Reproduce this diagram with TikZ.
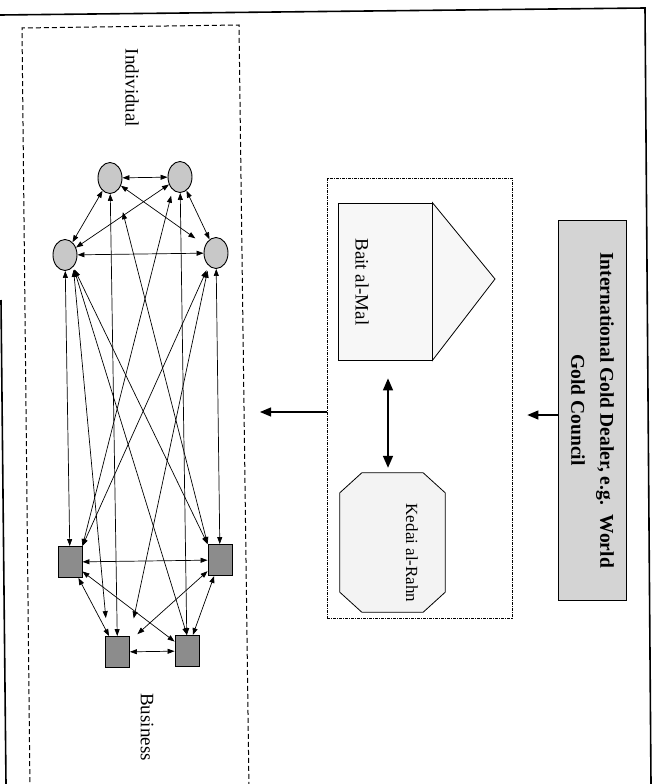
\documentclass[tikz,border=0pt]{standalone}
\usepackage{fontspec}
\setmainfont{Liberation Serif}
\usetikzlibrary{arrows.meta,shapes.geometric,calc}
\definecolor{circfill}{HTML}{C8C8C8}
\definecolor{sqfill}{HTML}{8C8C8C}
\definecolor{goldfill}{HTML}{D4D4D4}
\definecolor{octfill}{HTML}{F3F3F3}
\definecolor{housefill}{HTML}{F7F7F7}
\begin{document}
\begin{tikzpicture}[x=1pt,y=-1pt,
  indiv/.style={ellipse,draw,line width=0.9pt,fill=circfill,minimum width=24pt,minimum height=31pt,inner sep=0pt},
  biz/.style={rectangle,draw,line width=0.9pt,fill=sqfill,minimum width=24pt,minimum height=31pt,inner sep=0pt},
  net/.style={{Triangle[length=7pt,width=5pt]}-{Triangle[length=7pt,width=5pt]},line width=0.7pt},
  bigarrow/.style={-{Triangle[length=11pt,width=9pt]},line width=1.1pt},
  dblarrow/.style={{Triangle[length=12pt,width=10pt]}-{Triangle[length=12pt,width=10pt]},line width=1.5pt},
  lbl/.style={rotate=-90,font=\fontsize{19}{23}\selectfont,inner sep=0pt},
  frameline/.style={line width=1.6pt}]
\useasboundingbox (0,0) rectangle (658,784);

% page frame lines
\draw[frameline] (0,15) -- (645,8) -- (651,784);
\draw[frameline] (1,300) -- (6,784);

% outer dashed box
\draw[line width=1pt,dash pattern=on 5pt off 3pt] (30,790) -- (22,28) -- (239,25) -- (249,790);
\coordinate (outerE) at (244,412);

\node[lbl] (indivlbl) at (132,88) {Individual};
\node[lbl] (bizlbl) at (147,727) {Business};

% individuals
\node[indiv] (C1) at (110,178) {};
\node[indiv] (C2) at (180,177) {};
\node[indiv] (C3) at (65,255) {};
\node[indiv] (C4) at (216,253) {};
% businesses
\node[biz] (S1) at (70,562) {};
\node[biz] (S2) at (220,560) {};
\node[biz] (S3) at (117.5,652) {};
\node[biz] (S4) at (187,651) {};

% links among individuals
\draw[net] (C1) -- (C2);
\draw[net] (C3) -- (C4);
\draw[net] (C1) -- (C3);
\draw[net] (C2) -- (C4);
\draw[net] (C2) -- (C3);
\draw[net,shorten >=12pt] (C1) -- (C4);

% links among businesses
\draw[net] (S1) -- (S2);
\draw[net] (S3) -- (S4);
\draw[net] (S1) -- (S3);
\draw[net] (S2) -- (S4);
\draw[net] (S1) -- (S4);
\draw[net,shorten >=10pt] (S2) -- (S3);

% links between individuals and businesses
\draw[net] (C3) -- (S1);
\draw[net] (C1) -- (S3);
\draw[net] (C2) -- (S4);
\draw[net] (C4) -- (S2);
\draw[net,shorten <=3pt,shorten >=18pt] (C3.-55) -- ([xshift=-10pt]S3.north);
\draw[net,shorten <=3pt] (C3.-55) -- (S4.north);
\draw[net,shorten <=3pt] (C3.-55) -- (S2.north west);
\draw[net,shorten <=22pt] (C1.-60) -- (S2.north west);
\draw[net,shorten <=6pt] (C2.-120) -- (S1.north east);
\draw[net,shorten <=5pt] (C4.-120) -- (S1.north east);
\draw[net,shorten <=5pt,shorten >=18pt] (C4.-120) -- (S3.north east);

% middle box
\node[draw,line width=0.7pt,dash pattern=on 3pt off 1pt on 1pt off 1pt,minimum width=185pt,minimum height=440pt,inner sep=0pt] (midbox) at (419.5,398) {};

% Bait al-Mal house
\coordinate (apex) at (495,279);
\node[draw,line width=0.8pt,fill=housefill,minimum width=94pt,minimum height=157pt,inner sep=0pt] (baitmal) at (385,281.5) {};
\draw[line width=0.8pt,fill=housefill] (baitmal.north east) -- (apex) -- (baitmal.south east) -- cycle;
\node[lbl] (baittxt) at (362,282) {Bait al-Mal};

% Kedai al-Rahn octagon
\node[minimum width=105pt,minimum height=139pt,inner sep=0pt] (kedai) at (392.5,542.5) {};
\draw[line width=0.8pt,fill=octfill]
  ($(kedai.north west)+(22,0)$) -- ($(kedai.north east)+(-22,0)$) --
  ($(kedai.north east)+(0,20)$) -- ($(kedai.south east)+(0,-20)$) --
  ($(kedai.south east)+(-22,0)$) -- ($(kedai.south west)+(22,0)$) --
  ($(kedai.south west)+(0,-20)$) -- ($(kedai.north west)+(0,20)$) -- cycle;
\node[lbl,font=\fontsize{17}{21}\selectfont] (kedaitxt) at (412,553) {Kedai al-Rahn};

\draw[dblarrow,shorten <=18pt,shorten >=5pt] ([xshift=3pt]baitmal.south) -- ([xshift=3pt]baitmal.south |- kedai.north);

% International gold dealer
\node[draw,line width=1pt,fill=goldfill,minimum width=68pt,minimum height=380pt,inner sep=0pt] (gold) at (592,410) {};
\node[rotate=-90,align=center,font=\fontsize{19.5}{29}\bfseries\selectfont,inner sep=0pt] (goldtxt) at (592.5,410) {International Gold Dealer, e.g.~~World\\Gold Council};

\draw[bigarrow,shorten >=15pt] ([yshift=-5pt]gold.west) -- ([yshift=-5pt]gold.west -| midbox.east);
\draw[bigarrow,shorten >=16pt] ([yshift=-14pt]midbox.west) -- (outerE);
\end{tikzpicture}
\end{document}
